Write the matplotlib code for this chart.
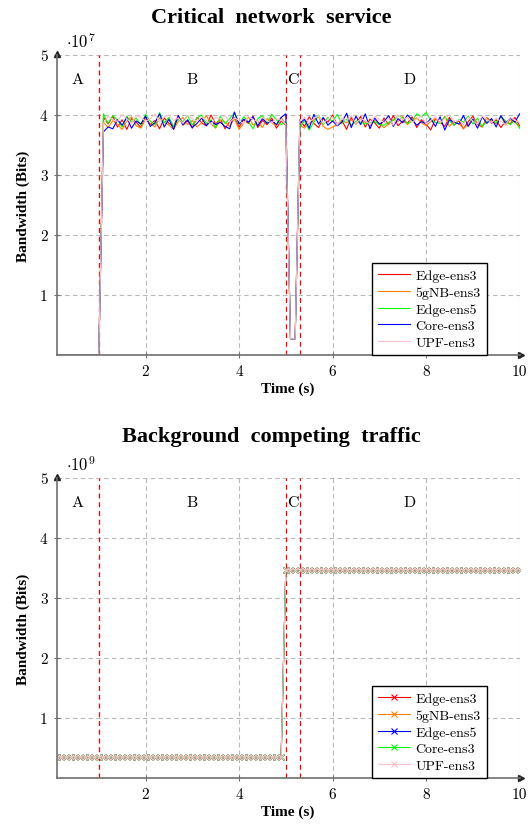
import numpy as np
import matplotlib
matplotlib.use("Agg")
import matplotlib.pyplot as plt
from matplotlib.ticker import FixedLocator, FuncFormatter

plt.rcParams['font.family'] = ['cmr10', 'DejaVu Serif']
plt.rcParams['mathtext.fontset'] = 'cm'
plt.rcParams['axes.unicode_minus'] = False

# ---------------- data ----------------
# Time axis (s), sample every 0.1 s
time_s = np.round(np.arange(1, 101) * 0.1, 1)

series_names = ["Edge-ens3", "5gNB-ens3", "Edge-ens5", "Core-ens3", "UPF-ens3"]
top_colors = ["#ff0000", "#ff8000", "#00ff00", "#0000ff", "#ffc0cb"]
bottom_names = ["Edge-ens3", "5gNB-ens3", "Edge-ens5", "Core-ens3", "UPF-ens3"]
bottom_colors = ["#ff0000", "#ff8000", "#0000ff", "#00ff00", "#ffc0cb"]

# Critical network service, bandwidth in units of 1e5 bits
phase_a = [0, 0, 0, 0, 0, 0, 0, 0, 0, 0]          # 0.1 .. 1.0 s
dip_c = [27, 27]                                  # 5.1, 5.2 s

edge_ens3_b = [396, 385, 398, 380, 392, 376, 394, 388, 379, 397, 384, 391, 377, 395, 386, 381, 399, 383, 390, 378,
               396, 387, 382, 400, 385, 393, 377, 389, 396, 380, 392, 386, 398, 379, 391, 384, 395, 378, 390, 383]
edge_ens3_d = [392, 381, 397, 386, 379, 394, 388, 400, 383, 391, 376, 396, 385, 398, 380, 393, 387, 378, 395, 384,
               399, 382, 390, 386, 397, 379, 392, 385, 375, 394, 388, 381, 396, 383, 391, 377, 389, 398, 384, 380,
               395, 386, 392, 379, 390, 385, 396, 382]
gnb_ens3_b = [388, 379, 391, 384, 376, 390, 397, 382, 378, 393, 386, 380, 395, 388, 383, 376, 389, 396, 384, 391,
              380, 387, 399, 385, 378, 392, 388, 381, 394, 376, 386, 397, 383, 390, 379, 394, 387, 382, 396, 385]
gnb_ens3_d = [383, 378, 386, 392, 397, 381, 376, 380, 384, 390, 387, 392, 385, 394, 388, 382, 391, 386, 379, 385,
              393, 389, 398, 384, 391, 395, 387, 382, 389, 394, 386, 398, 381, 390, 385, 378, 384, 393, 387, 380,
              396, 390, 385, 398, 383, 392, 388, 380]
edge_ens5_b = [402, 386, 399, 392, 380, 398, 388, 395, 383, 401, 390, 384, 404, 387, 396, 381, 393, 389, 399, 383,
               395, 400, 386, 392, 379, 398, 386, 394, 403, 385, 397, 389, 377, 394, 399, 386, 401, 392, 384, 388]
edge_ens5_d = [379, 391, 375, 388, 400, 384, 396, 389, 401, 386, 393, 383, 390, 388, 385, 387, 389, 384, 383, 388,
               391, 399, 395, 386, 390, 402, 397, 404, 392, 388, 386, 397, 390, 383, 393, 388, 398, 385, 395, 381,
               389, 393, 387, 398, 390, 384, 391, 378]
core_ens3_b = [372, 380, 377, 392, 383, 396, 378, 390, 385, 398, 381, 387, 402, 380, 393, 376, 399, 384, 392, 379,
               386, 395, 382, 390, 384, 388, 381, 377, 405, 385, 393, 388, 397, 382, 394, 386, 391, 384, 396, 402]
core_ens3_d = [386, 393, 378, 401, 385, 396, 383, 390, 382, 388, 403, 379, 398, 384, 402, 377, 395, 385, 389, 399,
               381, 394, 387, 400, 392, 383, 389, 385, 394, 381, 397, 375, 392, 388, 385, 399, 381, 393, 378, 397,
               386, 394, 380, 399, 386, 395, 388, 402]
upf_ens3_b = [385, 398, 392, 389, 401, 394, 386, 399, 396, 390, 393, 402, 388, 397, 400, 391, 395, 386, 399, 394,
              389, 397, 391, 384, 396, 393, 399, 388, 395, 391, 385, 398, 392, 389, 396, 390, 387, 394, 391, 385]
upf_ens3_d = [390, 396, 388, 394, 399, 386, 393, 397, 383, 395, 390, 399, 386, 394, 391, 384, 398, 393, 387, 395,
              383, 400, 392, 396, 388, 393, 398, 385, 391, 397, 387, 394, 400, 388, 392, 384, 396, 390, 385, 398,
              393, 387, 395, 389, 384, 396, 391, 388]

critical_b = [edge_ens3_b, gnb_ens3_b, edge_ens5_b, core_ens3_b, upf_ens3_b]
critical_d = [edge_ens3_d, gnb_ens3_d, edge_ens5_d, core_ens3_d, upf_ens3_d]

# Background competing traffic, bandwidth in units of 1e9 bits
bg_edge_ens3 = [0.35] * 49 + [3.47] * 51
bg_gnb_ens3 = [0.35] * 49 + [3.47] * 51
bg_edge_ens5 = [0.35] * 49 + [3.47] * 51
bg_core_ens3 = [0.35] * 49 + [3.47] * 51
bg_upf_ens3 = [0.35] * 49 + [3.47] * 51
background = [bg_edge_ens3, bg_gnb_ens3, bg_edge_ens5, bg_core_ens3, bg_upf_ens3]

phase_lines = [1.0, 5.0, 5.3]
phase_labels = ["A", "B", "C", "D"]
phase_label_x = [0.55, 3.0, 5.15, 7.65]

# ---------------- figure ----------------
W, H = 532, 829
fig = plt.figure(figsize=(W / 100, H / 100), dpi=100)

ax_left = 56.7 / W
ax_w = (519.6 - 56.7) / W
ax_h = 300 / H
ax1 = fig.add_axes([ax_left, 1 - 356 / H, ax_w, ax_h])
ax2 = fig.add_axes([ax_left, 1 - 779 / H, ax_w, ax_h])

GRID = "#b8b8b8"
SPINE = "#707070"
BOLD = dict(fontfamily="Liberation Serif", fontweight="bold")


def style_axes(ax, scale, exp_label):
    ax.set_xlim(0.1, 10)
    ax.set_ylim(0, 5 * scale)
    ax.xaxis.set_major_locator(FixedLocator([2, 4, 6, 8, 10]))
    ax.yaxis.set_major_locator(FixedLocator([scale * k for k in [1, 2, 3, 4, 5]]))
    ax.xaxis.set_major_formatter(FuncFormatter(lambda v, p: f"{v:g}"))
    ax.yaxis.set_major_formatter(FuncFormatter(lambda v, p: f"{v / scale:g}"))
    ax.grid(True, color=GRID, linestyle=(0, (4, 3)), linewidth=0.8)
    ax.set_axisbelow(True)
    for s in ["top", "right"]:
        ax.spines[s].set_visible(False)
    for s in ["left", "bottom"]:
        ax.spines[s].set_color(SPINE)
        ax.spines[s].set_linewidth(1.2)
    ax.tick_params(direction="inout", length=5, width=0.8, color=SPINE, labelsize=11, pad=4)
    ax.set_xlabel("Time (s)", fontsize=11, labelpad=3, **BOLD)
    ax.set_ylabel("Bandwidth (Bits)", fontsize=11, labelpad=7, **BOLD)
    # axis arrow heads
    ax.plot([1.003], [0], marker=">", color="#222222", markersize=4, transform=ax.transAxes, clip_on=False)
    ax.plot([0], [1.005], marker="^", color="#222222", markersize=4, transform=ax.transAxes, clip_on=False)
    ax.text(0.02, 1.018, exp_label, transform=ax.transAxes, fontsize=12, ha="left", va="bottom")
    for xv in phase_lines:
        ax.axvline(xv, color="#ff0000", linestyle=(0, (4, 3)), linewidth=0.9, zorder=1.5)
    for lab, xv in zip(phase_labels, phase_label_x):
        ax.text(xv, 4.6 * scale, lab, fontsize=11.5, ha="center", va="center")


def add_legend(ax):
    leg = ax.legend(loc="lower right", bbox_to_anchor=(0.9296, 0.0), borderaxespad=0,
                    fontsize=10, fancybox=False, edgecolor="black", framealpha=1,
                    handlelength=2.3, handletextpad=0.4, labelspacing=0.28, borderpad=0.45)
    leg.get_frame().set_linewidth(1.0)
    return leg


# top chart
style_axes(ax1, 1e7, r"$\cdot10^{7}$")
for name, col, b, d in zip(series_names, top_colors, critical_b, critical_d):
    vals = np.array(phase_a + b + dip_c + d, dtype=float) * 1e5
    ax1.plot(time_s, vals, color=col, linewidth=0.8, label=name)
add_legend(ax1)

# bottom chart
style_axes(ax2, 1e9, r"$\cdot10^{9}$")
for name, col, vals in zip(bottom_names, bottom_colors, background):
    ax2.plot(time_s, np.array(vals) * 1e9, color=col, linewidth=0.8, marker="x",
             markersize=3.8, markeredgewidth=0.8, label=name)
add_legend(ax2)

fig.text(271 / W, 1 - 18 / H, "Critical  network  service", fontsize=16,
         ha="center", va="center", **BOLD)
fig.text(271 / W, 1 - 437 / H, "Background  competing  traffic", fontsize=16,
         ha="center", va="center", **BOLD)

fig.savefig("out.png", dpi=100)
